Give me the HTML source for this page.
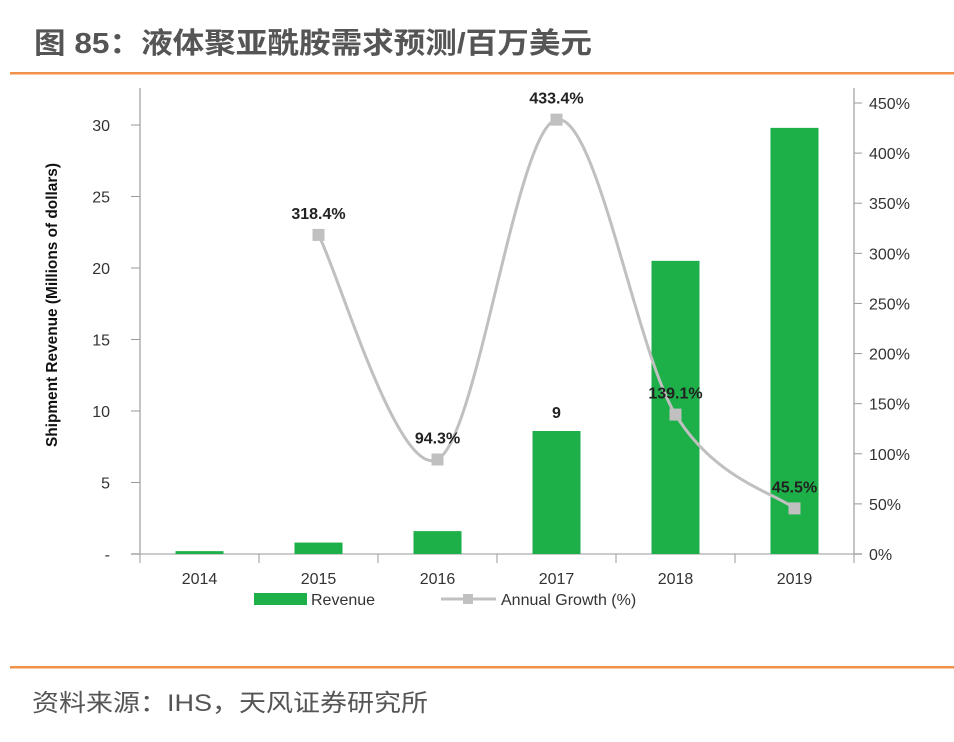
<!DOCTYPE html>
<html><head><meta charset="utf-8"><style>
body{margin:0;background:#fff;width:954px;height:742px;overflow:hidden;font-family:"Liberation Sans","Noto Sans CJK SC",sans-serif}
svg{display:block}
</style></head><body>
<svg id="chart" width="954" height="742" viewBox="0 0 954 742" xmlns="http://www.w3.org/2000/svg">
<text x="34" y="53" font-size="29" font-weight="bold" fill="#555" textLength="558" lengthAdjust="spacingAndGlyphs" font-family="Liberation Sans, Noto Sans CJK SC, sans-serif">图 85：液体聚亚酰胺需求预测/百万美元</text>
<rect x="10" y="72" width="944" height="2.5" fill="#f0904a"/>
<rect x="10" y="666" width="944" height="2.5" fill="#f0904a"/>
<text x="32" y="711" font-size="24" fill="#555" textLength="396" lengthAdjust="spacingAndGlyphs" font-family="Liberation Sans, Noto Sans CJK SC, sans-serif">资料来源：IHS，天风证券研究所</text>
<text transform="translate(57,305) rotate(-90)" text-anchor="middle" font-size="16" font-weight="bold" fill="#111" textLength="284" lengthAdjust="spacingAndGlyphs">Shipment Revenue (Millions of dollars)</text>
<g id="plot"></g>
<g>
<rect x="254" y="593" width="53" height="12" fill="#1daf48"/>
<text x="311" y="605" font-size="16" fill="#333">Revenue</text>
<line x1="441" y1="599" x2="496" y2="599" stroke="#c0c0c0" stroke-width="3"/>
<rect x="463" y="594" width="10" height="10" fill="#c0c0c0"/>
<text x="501" y="605" font-size="16" fill="#333">Annual Growth (%)</text>
</g>
</svg>
<script>
const categories=["2014","2015","2016","2017","2018","2019"];
const revenue=[0.2,0.8,1.6,8.6,20.5,29.8];
const revenueLabels=["","","","9","",""];
const growthYears=["2015","2016","2017","2018","2019"];
const growth=[318.4,94.3,433.4,139.1,45.5];
const growthLabels=["318.4%","94.3%","433.4%","139.1%","45.5%"];
const leftTicks=[0,5,10,15,20,25,30];
const rightTicks=[0,50,100,150,200,250,300,350,400,450];

const NS="http://www.w3.org/2000/svg";
const g=document.getElementById('plot');
const X0=140,X1=854,Y0=554;
const bw=(X1-X0)/categories.length;
const xC=i=>X0+bw*(i+0.5);
const yL=v=>Y0-v*(554-125)/30;
const yR=v=>Y0-v*(554-103)/450;
function mk(tag,attrs){const e=document.createElementNS(NS,tag);for(const k in attrs)e.setAttribute(k,attrs[k]);g.appendChild(e);return e;}

let e=mk('line',{x1:X0,y1:88,x2:X0,y2:Y0,stroke:'#888','stroke-width':1});


e=mk('line',{x1:X1,y1:88,x2:X1,y2:Y0,stroke:'#888','stroke-width':1});


e=mk('line',{x1:X0-9,y1:Y0,x2:X1+8,y2:Y0,stroke:'#bbb','stroke-width':1.5});


leftTicks.forEach(t=>{
  const y=yL(t);
  let l=mk('line',{x1:X0-9,y1:y,x2:X0,y2:y,stroke:'#999'});
  
  
  let tx=mk('text',{x:110,y:y+6,'text-anchor':'end','font-size':16,fill:'#333'});
  tx.textContent=t===0?'-':String(t);
  
  
});
rightTicks.forEach(t=>{
  const y=yR(t);
  let l=mk('line',{x1:X1,y1:y,x2:X1+8,y2:y,stroke:'#999'});
  
  
  let tx=mk('text',{x:869,y:y+6,'font-size':16,fill:'#333'});
  tx.textContent=t+'%';
  
  
});
for(let i=0;i<=categories.length;i++){
  let l=mk('line',{x1:X0+bw*i,y1:Y0,x2:X0+bw*i,y2:Y0+9,stroke:'#999'});
  
  
}
categories.forEach((c,i)=>{
  let tx=mk('text',{x:xC(i),y:584,'text-anchor':'middle','font-size':16,fill:'#333'});
  tx.textContent=c;
  
  
  const y=yL(revenue[i]);
  let r=mk('rect',{x:xC(i)-24,y:y,width:48,height:Y0-y,fill:'#1daf48'});
  
  
  if(revenueLabels[i]){
    let lt=mk('text',{x:xC(i),y:y-13,'text-anchor':'middle','font-size':16,'font-weight':'bold',fill:'#222'});
    lt.textContent=revenueLabels[i];
    
    
  }
});
const pts=growthYears.map((yr,k)=>[xC(categories.indexOf(yr)),yR(growth[k])]);
let d='M'+pts[0][0]+','+pts[0][1];
for(let i=0;i<pts.length-1;i++){
  const p0=pts[Math.max(i-1,0)],p1=pts[i],p2=pts[i+1],p3=pts[Math.min(i+2,pts.length-1)];
  const t=1/6;
  const c1=[p1[0]+(p2[0]-p0[0])*t,p1[1]+(p2[1]-p0[1])*t];
  const c2=[p2[0]-(p3[0]-p1[0])*t,p2[1]-(p3[1]-p1[1])*t];
  d+=` C${c1[0]},${c1[1]} ${c2[0]},${c2[1]} ${p2[0]},${p2[1]}`;
}
e=mk('path',{d:d,fill:'none',stroke:'#c0c0c0','stroke-width':3});


pts.forEach((p,k)=>{
  let m=mk('rect',{x:p[0]-6,y:p[1]-6,width:12,height:12,fill:'#c0c0c0'});
  
  
  let lt=mk('text',{x:p[0],y:p[1]-16,'text-anchor':'middle','font-size':16,'font-weight':'bold',fill:'#222'});
  lt.textContent=growthLabels[k];
  
  
});
</script>
</body></html>
